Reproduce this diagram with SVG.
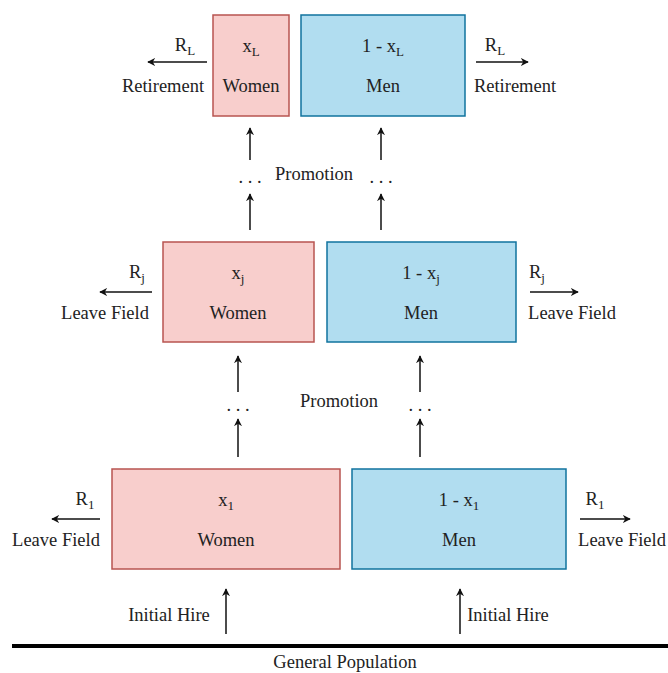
<svg xmlns="http://www.w3.org/2000/svg" width="668" height="673" viewBox="0 0 668 673">
<style>
text{font-family:"Liberation Serif","Tinos","Times New Roman","DejaVu Serif",serif;font-size:18.5px;fill:#222;text-anchor:middle}
.s{font-size:13px}
.w{fill:#f8cecc;stroke:#b85450;stroke-width:1.5}
.m{fill:#b1ddf0;stroke:#10739e;stroke-width:1.5}
.a{stroke:#111;stroke-width:1.5;fill:none;marker-end:url(#ah)}
</style>
<defs>
<marker id="ah" viewBox="0 0 10 10" refX="9" refY="5" markerWidth="8" markerHeight="8" markerUnits="userSpaceOnUse" orient="auto">
<path d="M0,0 L10,5 L0,10 L3,5 Z" fill="#111"/>
</marker>
</defs>
<g id="womenL"><rect class="w" x="213" y="15" width="76" height="101"/><text x="251" y="52">x<tspan class="s" dy="4">L</tspan></text><text x="251" y="92">Women</text></g>
<g id="menL"><rect class="m" x="301" y="15" width="164" height="101"/><text x="383" y="52">1 - x<tspan class="s" dy="4">L</tspan></text><text x="383" y="92">Men</text></g>
<g id="womenJ"><rect class="w" x="163" y="242" width="151" height="100"/><text x="238" y="279">x<tspan class="s" dy="4">j</tspan></text><text x="238" y="319">Women</text></g>
<g id="menJ"><rect class="m" x="327" y="242" width="189" height="100"/><text x="421" y="279">1 - x<tspan class="s" dy="4">j</tspan></text><text x="421" y="319">Men</text></g>
<g id="women1"><rect class="w" x="112" y="469" width="228" height="100"/><text x="226" y="506">x<tspan class="s" dy="4">1</tspan></text><text x="226" y="546">Women</text></g>
<g id="men1"><rect class="m" x="352" y="469" width="214" height="100"/><text x="459" y="506">1 - x<tspan class="s" dy="4">1</tspan></text><text x="459" y="546">Men</text></g>
<g id="labels">
<text x="185" y="51">R<tspan class="s" dy="4">L</tspan></text>
<text x="163" y="92">Retirement</text>
<text x="495" y="51">R<tspan class="s" dy="4">L</tspan></text>
<text x="515" y="92">Retirement</text>
<text x="137" y="278">R<tspan class="s" dy="4">j</tspan></text>
<text x="105" y="319">Leave Field</text>
<text x="537" y="278">R<tspan class="s" dy="4">j</tspan></text>
<text x="572" y="319">Leave Field</text>
<text x="85" y="505">R<tspan class="s" dy="4">1</tspan></text>
<text x="56" y="546">Leave Field</text>
<text x="595" y="505">R<tspan class="s" dy="4">1</tspan></text>
<text x="622" y="546">Leave Field</text>
<text x="314" y="180">Promotion</text>
<text x="339" y="407">Promotion</text>
<text x="169" y="621">Initial Hire</text>
<text x="508" y="621">Initial Hire</text>
<text x="345" y="668">General Population</text>
<text x="250" y="183">. . .</text>
<text x="381" y="183">. . .</text>
<text x="238" y="411">. . .</text>
<text x="420" y="411">. . .</text>
</g>
<g id="connectors">
<line class="a" x1="207" y1="62" x2="148" y2="62"/>
<line class="a" x1="476" y1="62" x2="528" y2="62"/>
<line class="a" x1="152" y1="292" x2="100" y2="292"/>
<line class="a" x1="530" y1="292" x2="578" y2="292"/>
<line class="a" x1="100" y1="519" x2="52" y2="519"/>
<line class="a" x1="580" y1="519" x2="630" y2="519"/>
<line class="a" x1="250" y1="160" x2="250" y2="128"/>
<line class="a" x1="250" y1="230" x2="250" y2="194"/>
<line class="a" x1="381" y1="160" x2="381" y2="128"/>
<line class="a" x1="381" y1="230" x2="381" y2="194"/>
<line class="a" x1="238" y1="392" x2="238" y2="356"/>
<line class="a" x1="238" y1="457" x2="238" y2="419"/>
<line class="a" x1="420" y1="392" x2="420" y2="356"/>
<line class="a" x1="420" y1="457" x2="420" y2="419"/>
<line class="a" x1="226" y1="634" x2="226" y2="589"/>
<line class="a" x1="460" y1="634" x2="460" y2="589"/>
<line x1="12" y1="646" x2="668" y2="646" stroke="#000" stroke-width="4"/>
</g>
</svg>
